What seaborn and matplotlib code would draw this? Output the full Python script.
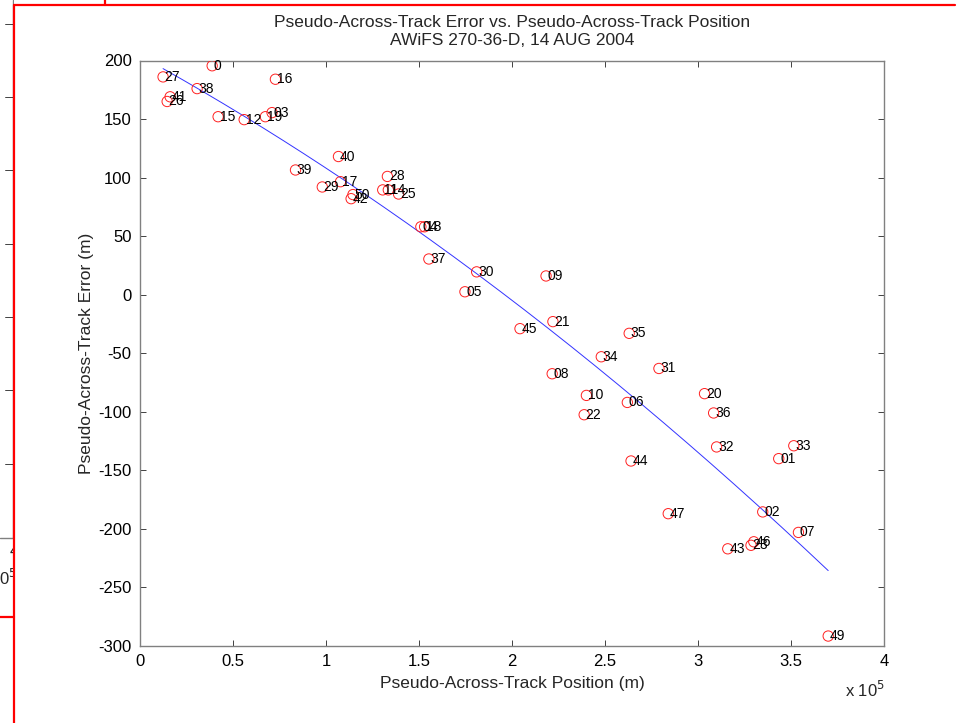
import numpy as np
import pandas as pd
import matplotlib
matplotlib.use("Agg")
import matplotlib.pyplot as plt
from matplotlib.lines import Line2D
import seaborn as sns

# ---- data ----
labels = ["27", "0", "41", "26", "38", "15", "12", "19", "03", "16",
          "39", "40", "29", "17", "50", "42", "28", "11", "14", "25",
          "04", "18", "37", "30", "05", "09", "21", "45", "35", "34",
          "08", "31", "10", "22", "06", "20", "36", "32", "44", "33",
          "01", "47", "02", "07", "43", "46", "23", "49"]
position_m = [12400, 38800, 16200, 14600, 30700, 42000, 56000, 67400, 71000, 72800,
              83600, 106700, 98000, 107800, 114500, 113500, 133000, 130500, 133500, 139000,
              151000, 153000, 155300, 181000, 174700, 218300, 222000, 204300, 263000, 248000,
              221600, 279000, 240000, 238800, 262000, 303500, 308400, 310000, 264000, 351500,
              343400, 284000, 334800, 354000, 316000, 330000, 328500, 370000]
error_m = [186, 195.5, 169, 165, 176, 152, 149.5, 152, 155.5, 184,
           106.5, 118, 92, 96.5, 85.5, 82, 101, 89.5, 89.5, 86,
           58, 58, 30.5, 19.5, 2.5, 16, -23, -29, -33, -53,
           -67.5, -63, -86, -102.5, -92, -84.5, -101, -130, -142, -129,
           -140, -187, -185.5, -203, -217, -211, -214, -291.5]

x_ticks = [0, 50000, 100000, 150000, 200000, 250000, 300000, 350000, 400000]
x_tick_labels = ["0", "0.5", "1", "1.5", "2", "2.5", "3", "3.5", "4"]
y_ticks = [-300, -250, -200, -150, -100, -50, 0, 50, 100, 150, 200]

title_lines = ["Pseudo-Across-Track Error vs. Pseudo-Across-Track Position",
               "AWiFS 270-36-D, 14 AUG 2004"]

df = pd.DataFrame({"pos": position_m, "err": error_m, "label": labels})

# quadratic fit of the data (as in the original)
coef = np.polyfit(df["pos"], df["err"], 2)
fit_x = np.linspace(df["pos"].min(), df["pos"].max(), 200)
fit = pd.DataFrame({"pos": fit_x, "err": np.polyval(coef, fit_x)})

# ---- style ----
sns.set_style("white")
plt.rcParams["font.family"] = ["Liberation Sans", "DejaVu Sans"]

W, H = 961, 723
fig = plt.figure(figsize=(W / 100, H / 100), dpi=100)
ax = fig.add_axes([140 / W, 1 - 646 / H, (884 - 140) / W, (646 - 60.5) / H])

sns.lineplot(data=fit, x="pos", y="err", ax=ax, color="#3333ff", lw=0.7,
             sort=False, zorder=2)
sns.scatterplot(data=df, x="pos", y="err", ax=ax, marker="o", s=55,
                fc="none", ec="#ff2020", linewidth=0.7, zorder=3)
for _, r in df.iterrows():
    ax.annotate(r["label"], (r["pos"], r["err"]), xytext=(1.0, 0),
                textcoords="offset points", ha="left", va="center",
                fontsize=10, color="black", zorder=4)

ax.set_xlim(0, 400000)
ax.set_ylim(-300, 200)
ax.set_xticks(x_ticks)
ax.set_xticklabels(x_tick_labels)
ax.set_yticks(y_ticks)
ax.set_yticklabels([str(v) for v in y_ticks])
ax.tick_params(axis="both", direction="in", length=4, width=0.6,
               color="#222222", labelsize=12, labelcolor="black",
               top=True, right=True, bottom=True, left=True, pad=6)
for s in ax.spines.values():
    s.set_visible(True)
    s.set_color("#808080")
    s.set_linewidth(1.0)
ax.set_xlabel("Pseudo-Across-Track Position (m)", fontsize=12.5, labelpad=5)
ax.set_ylabel("Pseudo-Across-Track Error (m)", fontsize=12.5, labelpad=3)
ax.set_title("\n".join(title_lines), fontsize=12.5, pad=11, linespacing=1.25)

fig.text(845 / W, 1 - 690 / H, "x 10$^{5}$", fontsize=12,
         ha="left", va="center")

# ---- page fragments visible around the chart in the reference ----
def fline(x0, y0, x1, y1, **kw):
    fig.add_artist(Line2D([x0 / W, x1 / W], [1 - y0 / H, 1 - y1 / H],
                          transform=fig.transFigure, **kw))

edge = fig.add_axes([0, 0, 14 / W, 1])
edge.set_axis_off()
edge.set_xlim(0, 14)
edge.set_ylim(H, 0)
edge.plot([13, 13], [0, 538], color="#808080", lw=1.0, clip_on=True)
edge.plot([0, 13], [538, 538], color="#808080", lw=1.0, clip_on=True)
for ty in [24, 97, 170, 244, 317, 390, 464]:
    edge.plot([5, 13], [ty, ty], color="#222222", lw=0.6, clip_on=True)
edge.text(14, 551, "4", fontsize=12, ha="center", va="center", clip_on=True)
edge.text(4, 578, "10$^{5}$", fontsize=12, ha="center", va="center", clip_on=True)

fline(14, 4.5, 955, 4.5, color="red", lw=1.6)
fline(14, 4.5, 14, H, color="red", lw=1.6)
fline(105, 0, 105, 4.5, color="red", lw=1.6)
fline(0, 617, 14, 617, color="red", lw=1.6)

fig.savefig("out.png", dpi=100, facecolor="white")
